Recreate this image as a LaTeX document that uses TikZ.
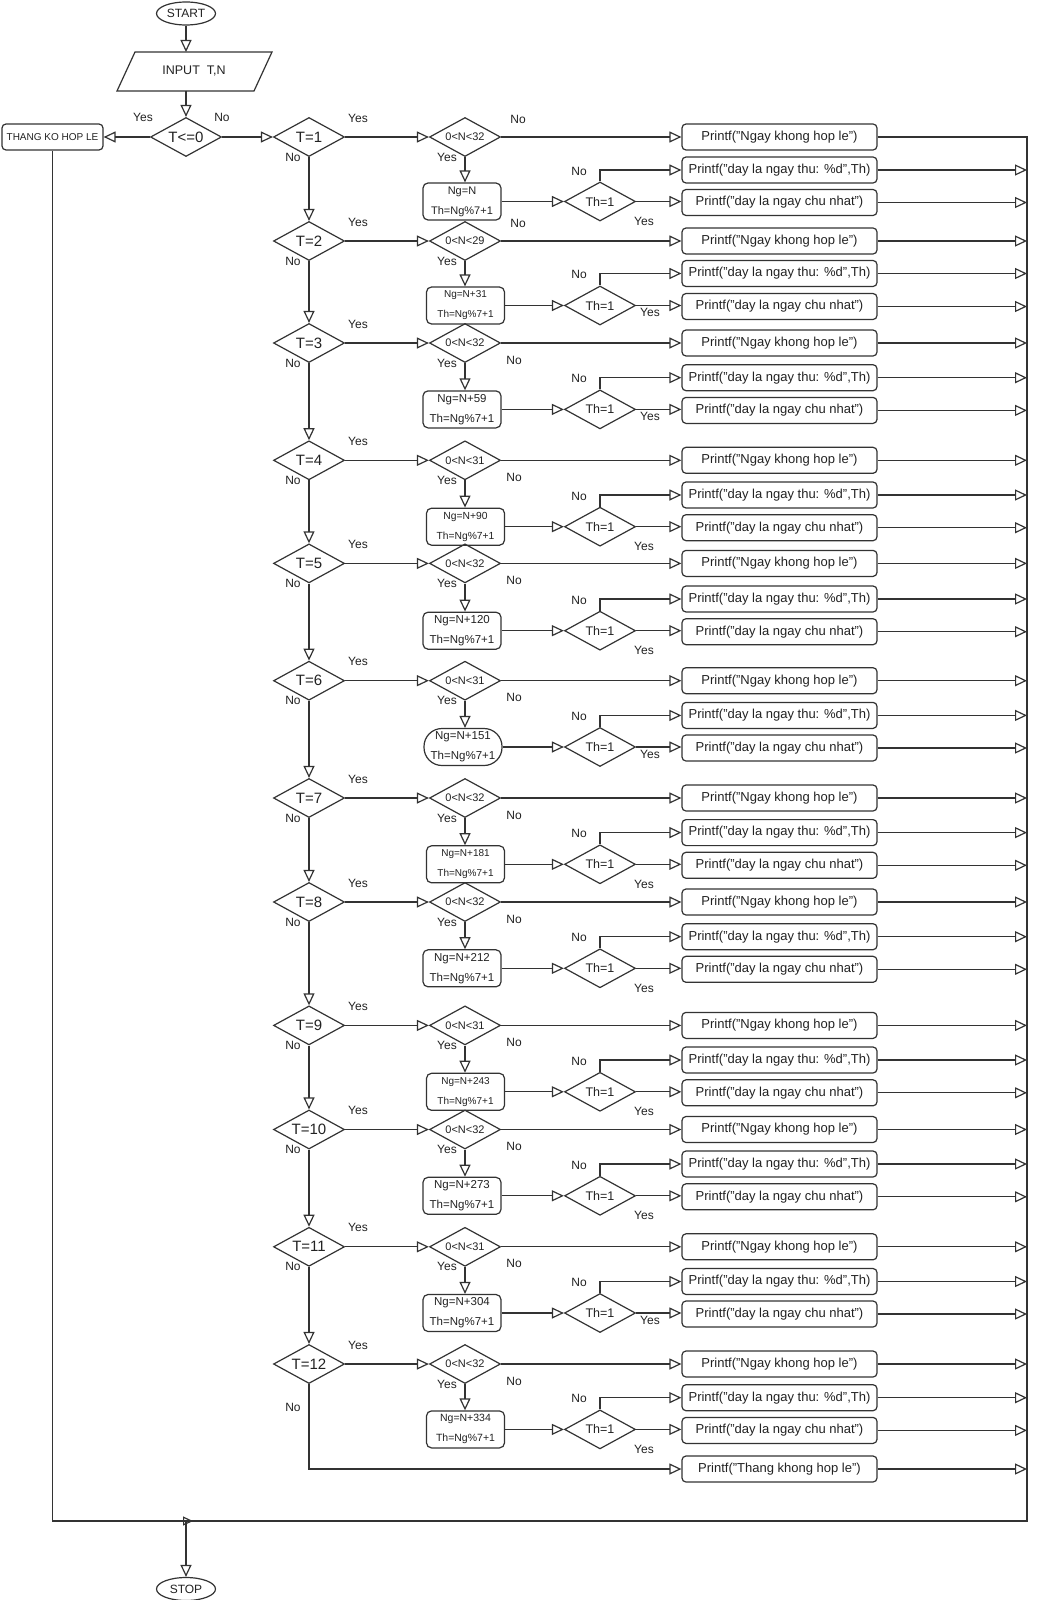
\documentclass[tikz,border=0pt]{standalone}
\usepackage{fontspec}
\setmainfont{Liberation Sans}
\usetikzlibrary{shapes.geometric,arrows.meta}
\definecolor{ln}{HTML}{333333}
\definecolor{tx}{HTML}{222222}
\begin{document}
\begin{tikzpicture}[x=1pt,y=-1pt,
 lnk/.style={draw=ln,line width=1.2pt},
 arr/.style={lnk,-{Triangle[open,length=12pt,width=11pt]}},
 arrs/.style={lnk,-{Triangle[open,length=10pt,width=9pt]}},
 dia/.style={diamond,draw=ln,line width=1.2pt,aspect=1.8,inner sep=0pt,minimum width=71pt,minimum height=39pt,text=tx},
 pbox/.style={rectangle,rounded corners=4pt,draw=ln,line width=1.2pt,minimum width=195pt,minimum height=26pt,inner sep=0pt,text=tx,font=\fontsize{13}{15}\selectfont},
 cbox/.style={rectangle,draw=ln,line width=1.2pt,minimum width=78pt,minimum height=37pt,inner sep=0pt,align=center,text=tx},
 lbl/.style={text=tx,inner sep=0pt,font=\fontsize{12}{14}\selectfont},
 term/.style={ellipse,draw=ln,line width=1.2pt,minimum width=59pt,minimum height=23pt,inner sep=0pt,text=tx,font=\fontsize{12}{14}\selectfont}]
\fill[white] (0,0) rectangle (1042,1600);
\useasboundingbox (0,0) rectangle (1042,1600);

% top part
\node[term] (start) at (186,13.5) {START};
\coordinate (ptop) at (186,52);
\coordinate (pbot) at (186,91);
\draw[lnk] (135,52) -- (272,52) -- (254,91) -- (117,91) -- cycle;
\node[text=tx,font=\fontsize{12.5}{14}\selectfont] (inp) at (194,71.5) {INPUT\ \ T,N};
\draw[arr] (start.south) -- (ptop);
\node[dia,font=\fontsize{15}{17}\selectfont] (t0) at (186,137) {T<=0};
\draw[arr] (pbot) -- (t0.north);
\node[rectangle,rounded corners=4pt,draw=ln,line width=1.2pt,minimum width=101pt,minimum height=26pt,inner sep=0pt,text=tx,font=\fontsize{10}{12}\selectfont] (thang) at (52.5,137) {THANG KO HOP LE};
\draw[arr] (t0.west) -- (thang.east);
\node[lbl] at (143,117) {Yes};
\node[lbl] at (222,117) {No};

\coordinate (rt) at (1027,137);
\coordinate (rb) at (1027,1521);

\foreach \k/\ty/\da/\db/\cnd/\bx/\bexpr/\fs/\nb/\yc/\rc in {
 1/137/33/65.5/0<N<32/462/Ng=N/11/0/0/5,
 2/241/32.5/65.5/0<N<29/465.5/Ng=N+31/10/0/1/5,
 3/343/34.7/67.4/0<N<32/462/Ng=N+59/11.5/1/1/5,
 4/460.3/34.7/67.4/0<N<31/465.5/Ng=N+90/10.3/1/0/5,
 5/563.4/35.6/68.3/0<N<32/462/Ng=N+120/11.5/1/0/5,
 6/680.7/34.7/67.3/0<N<31/463/Ng=N+151/11.5/1/1/18,
 7/798/34.6/67.3/0<N<32/465.5/Ng=N+181/10/1/0/5,
 8/902/34.7/67.3/0<N<32/462/Ng=N+212/11.5/1/0/5,
 9/1025.4/34.6/67.4/0<N<31/465.5/Ng=N+243/10/1/0/5,
 10/1129.5/34.5/67.3/0<N<32/462/Ng=N+273/11.5/1/0/5,
 11/1246.8/34.7/67.2/0<N<31/462/Ng=N+304/11.5/1/1/5,
 12/1364/33.7/66.4/0<N<32/465.5/Ng=N+334/10.5/1/0/5}{
 \pgfmathsetmacro\ym{\ty+\da}
 \pgfmathsetmacro\yb{\ty+\db}
 \node[dia,font=\fontsize{15}{17}\selectfont] (T\k) at (309,\ty) {T=\k};
 \node[dia,font=\fontsize{11}{13}\selectfont] (C\k) at (465,\ty) {\cnd};
 \node[pbox] (PN\k) at (779.5,\ty) {Printf("Ngay khong hop le")};
 \node[pbox] (PT\k) at (779.5,\ym) {Printf("day la ngay thu: \%d",Th)};
 \node[pbox] (PC\k) at (779.5,\yb) {Printf("day la ngay chu nhat")};
 \node[dia,font=\fontsize{12.5}{14}\selectfont] (H\k) at (600,\yb-1) {Th=1};
 \node[cbox,rounded corners=\rc pt,font=\fontsize{\fs}{20}\selectfont] (B\k) at (\bx,\yb-1) {\bexpr\\Th=Ng\%7+1};
 \draw[arr] (T\k.east) -- (C\k.west);
 \draw[arr] (C\k.east) -- (PN\k.west);
 \draw[arr] (C\k.south) -- (C\k.south |- B\k.north);
 \draw[arr] (B\k.east) -- (H\k.west);
 \draw[arr] (H\k.east) -- (H\k.east -| PC\k.west);
 \draw[arr] (H\k.north) |- (PT\k.west);
 \ifnum\k>1 \draw[arr] (PN\k.east) -- (PN\k.east -| rt); \fi
 \draw[arr] (PT\k.east) -- (PT\k.east -| rt);
 \draw[arr] (PC\k.east) -- (PC\k.east -| rt);
 \node[lbl] at (358,\ty-19) {Yes};
 \ifnum\k<12 \node[lbl] at (293,\ty+20) {No}; \else \node[lbl] at (293,\ty+43) {No}; \fi
 \node[lbl] at (447,\ty+20) {Yes};
 \ifnum\nb=1 \node[lbl] at (514,\ty+17) {No}; \else \node[lbl] at (518,\ty-18) {No}; \fi
 \node[lbl] at (579,\ym+1) {No};
 \ifnum\yc=1 \node[lbl] at (650,\yb+6) {Yes}; \else \node[lbl] at (644,\yb+19) {Yes}; \fi
}

\draw[arr] (t0.east) -- (T1.west);
\foreach \k [evaluate=\k as \n using int(\k+1)] in {1,...,11}
 \draw[arr] (T\k.south) -- (T\n.north);

\node[pbox] (PF) at (779.5,1469) {Printf("Thang khong hop le")};
\draw[arr] (T12.south) |- (PF.west);
\draw[arr] (PF.east) -- (PF.east -| rt);

% return lines
\coordinate (lb) at (thang.south |- rb);
\draw[lnk] (PN1.east) -- (rt) -- (rb) -- (lb) -- (thang.south);
\coordinate (jn) at (193,1521);
\draw[arrs] (lb) -- (jn);
\coordinate (jd) at (186,1521);
\node[term] (stop) at (186,1589) {STOP};
\draw[arr] (jd) -- (stop.north);
\end{tikzpicture}
\end{document}
